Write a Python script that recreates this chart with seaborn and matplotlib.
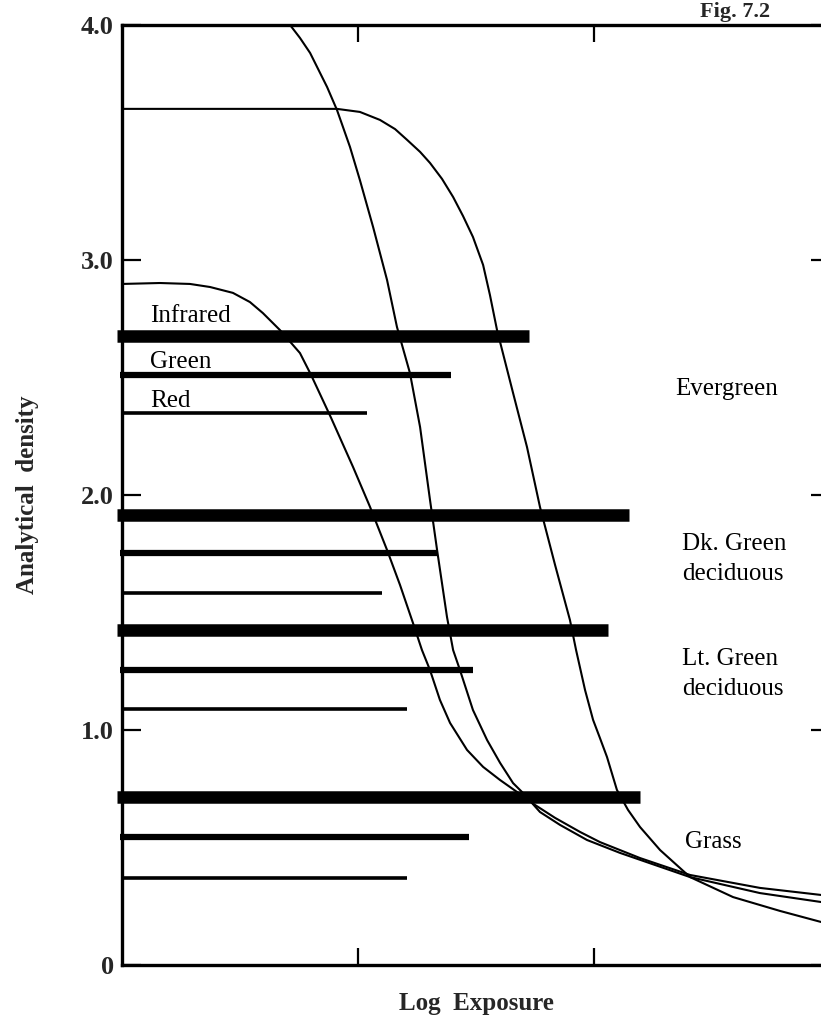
import numpy as np
import pandas as pd
import matplotlib
matplotlib.use("Agg")
import matplotlib.pyplot as plt
import seaborn as sns

# ---------------- data ----------------
band_names = ["Infrared", "Green", "Red"]
class_names = ["Evergreen", "Dk. Green\ndeciduous", "Lt. Green\ndeciduous", "Grass"]

# density level of each band bar for the four vegetation classes
infrared_density = [2.677, 1.915, 1.426, 0.715]
green_density = [2.511, 1.753, 1.255, 0.545]
red_density = [2.349, 1.583, 1.089, 0.370]
# log exposure at which each bar ends
infrared_extent = [1.725, 2.148, 2.059, 2.195]
green_extent = [1.394, 1.339, 1.487, 1.470]
red_extent = [1.038, 1.102, 1.208, 1.208]

# characteristic curves (log exposure, density)
curve_a_x = [0.0, 0.161, 0.288, 0.373, 0.470, 0.542, 0.597, 0.669, 0.754, 0.801, 0.886,
             0.979, 1.051, 1.123, 1.178, 1.233, 1.271, 1.305, 1.347, 1.390, 1.462, 1.530,
             1.602, 1.674, 1.750, 1.835, 1.941, 2.025, 2.195, 2.407, 2.703, 2.962]
curve_a_y = [2.898, 2.902, 2.898, 2.885, 2.860, 2.821, 2.774, 2.702, 2.604, 2.511, 2.328,
             2.119, 1.949, 1.766, 1.617, 1.455, 1.340, 1.255, 1.128, 1.030, 0.915, 0.843,
             0.787, 0.736, 0.681, 0.626, 0.566, 0.523, 0.455, 0.383, 0.328, 0.298]
curve_b_x = [0.712, 0.754, 0.797, 0.869, 0.911, 0.966, 1.008, 1.064, 1.123, 1.165, 1.220,
             1.263, 1.305, 1.335, 1.377, 1.403, 1.432, 1.487, 1.547, 1.602, 1.657, 1.699,
             1.771, 1.856, 1.970, 2.110, 2.407, 2.703, 2.962]
curve_b_y = [4.0, 3.945, 3.881, 3.736, 3.638, 3.481, 3.340, 3.140, 2.915, 2.715, 2.519,
             2.289, 1.979, 1.766, 1.481, 1.340, 1.255, 1.085, 0.957, 0.860, 0.774, 0.732,
             0.651, 0.596, 0.532, 0.477, 0.374, 0.306, 0.268]
curve_c_x = [0.0, 0.911, 1.008, 1.093, 1.157, 1.208, 1.263, 1.305, 1.356, 1.403, 1.445,
             1.487, 1.530, 1.559, 1.589, 1.657, 1.716, 1.771, 1.835, 1.898, 1.924, 1.962,
             1.996, 2.025, 2.055, 2.097, 2.144, 2.195, 2.280, 2.407, 2.589, 2.788, 2.962]
curve_c_y = [3.643, 3.643, 3.630, 3.596, 3.557, 3.511, 3.460, 3.413, 3.345, 3.268, 3.187,
             3.098, 2.979, 2.851, 2.702, 2.434, 2.204, 1.949, 1.702, 1.468, 1.340, 1.170,
             1.043, 0.966, 0.885, 0.745, 0.660, 0.587, 0.489, 0.374, 0.289, 0.230, 0.183]

y_ticks = [0, 1, 2, 3, 4]
y_tick_labels = ["0", "1.0", "2.0", "3.0", "4.0"]
x_ticks = [1, 2]

# ---------------- style ----------------
sns.set_theme(style="ticks")
plt.rcParams["font.family"] = ["Liberation Serif", "DejaVu Serif"]

fig = plt.figure(figsize=(8.21, 10.28), dpi=100)
ax = fig.add_axes([0.1486, 0.0613, 0.8624, 0.9144])

for cx, cy in [(curve_a_x, curve_a_y), (curve_b_x, curve_b_y), (curve_c_x, curve_c_y)]:
    sns.lineplot(x=cx, y=cy, sort=False, estimator=None, color="black",
                 linewidth=1.5, ax=ax)

ax.hlines(infrared_density, -0.02, infrared_extent, color="black", linewidth=9,
          clip_on=False)
ax.hlines(green_density, -0.01, green_extent, color="black", linewidth=4.5,
          clip_on=False)
ax.hlines(red_density, 0.0, red_extent, color="black", linewidth=2.6)

ax.set_xlim(0, 3.0)
ax.set_ylim(0, 4.0)
ax.set_xticks(x_ticks)
ax.set_xticklabels([])
ax.set_yticks(y_ticks)
ax.set_yticklabels(y_tick_labels, fontsize=19, fontweight="bold")
ax.tick_params(axis="x", direction="in", length=12, width=1.6, top=True, bottom=True,
               color="black")
ax.tick_params(axis="y", direction="in", length=14, width=1.6, left=True, right=True,
               color="black", pad=6)
for s in ax.spines.values():
    s.set_linewidth(2.4)
    s.set_color("black")

ax.set_xlabel("Log  Exposure", fontsize=18, fontweight="bold", labelpad=16)
ax.set_ylabel("Analytical  density", fontsize=18, fontweight="bold", labelpad=30)

# band labels
band_label_y = [2.736, 2.540, 2.374]
for name, yy in zip(band_names, band_label_y):
    ax.text(0.119, yy, name, fontsize=18, va="baseline", ha="left", color="black")

# class labels
class_label_x = [2.343, 2.373, 2.373, 2.386]
class_label_y = [2.426, 1.766, 1.277, 0.498]
for name, xx, yy in zip(class_names, class_label_x, class_label_y):
    lines = name.split("\n")
    for i, ln in enumerate(lines):
        ax.text(xx, yy - i * 0.128, ln, fontsize=18, va="baseline", ha="left",
                color="black")

fig.text(0.853, 0.9835, "Fig. 7.2", fontsize=16, fontweight="bold", va="baseline",
         ha="left")

fig.savefig("out.png", dpi=100)
